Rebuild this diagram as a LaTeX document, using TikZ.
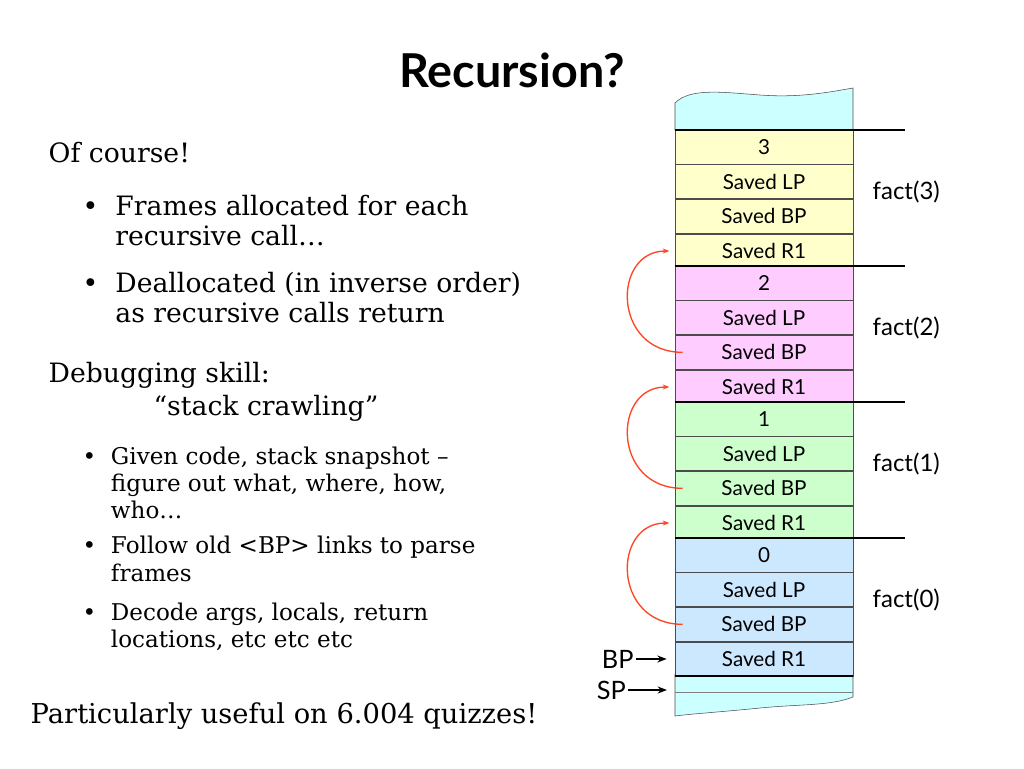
\documentclass[tikz,border=0pt]{standalone}
\usepackage{fontspec}
\setmainfont{DejaVu Serif}
\newfontfamily\gill{Lato}
\usetikzlibrary{positioning,arrows.meta}
\definecolor{stkyellow}{HTML}{FFFFCC}
\definecolor{stkpink}{HTML}{FFCCFF}
\definecolor{stkgreen}{HTML}{CCFFCC}
\definecolor{stkblue}{HTML}{CCE8FF}
\definecolor{stkcyan}{HTML}{CCFFFF}
\definecolor{linkred}{HTML}{FF4422}
\tikzset{
  cell/.style={draw=black!70, line width=0.5pt, minimum width=133.5pt, minimum height=25.5pt,
    inner sep=0pt, font=\gill\fontsize{15.5}{17}\selectfont},
  frameline/.style={line width=1.5pt},
  fname/.style={font=\gill\fontsize{18}{20}\selectfont, anchor=west},
  link/.style={-{Stealth[length=5pt]}, linkred, line width=1pt},
  pointer/.style={-{Stealth[length=7pt]}, line width=1.8pt},
  body/.style={anchor=west, align=left, font=\fontsize{20}{22.5}\selectfont},
  small/.style={anchor=west, align=left, font=\fontsize{17.3}{20.5}\selectfont},
}
\begin{document}
\begin{tikzpicture}[x=0.75pt,y=-0.75pt]
  \useasboundingbox (0,0) rectangle (1024,768);

  \node[font=\gill\bfseries\fontsize{35}{38}\selectfont] (title) at (512,70) {Recursion?};

  % left column text
  \node[body] (course) at (44,153) {Of course!};
  \node[body] (b1) at (78,221) {\textbullet\ \ Frames allocated for each\\\hphantom{\textbullet\ \ }recursive call\ldots};
  \node[body] (b2) at (78,298) {\textbullet\ \ Deallocated (in inverse order)\\\hphantom{\textbullet\ \ }as recursive calls return};
  \node[body] (debug) at (44,375) {Debugging skill:};
  \node[body, anchor=center] (crawl) at (266,408) {``stack crawling''};
  \node[small] (b3) at (78,483) {\textbullet\ \ Given code, stack snapshot --\\\hphantom{\textbullet\ \ }figure out what, where, how,\\\hphantom{\textbullet\ \ }who\ldots};
  \node[small] (b4) at (78,559) {\textbullet\ \ Follow old <BP> links to parse\\\hphantom{\textbullet\ \ }frames};
  \node[small] (b5) at (78,627) {\textbullet\ \ Decode args, locals, return\\\hphantom{\textbullet\ \ }locations, etc etc etc};
  \node[body, font=\fontsize{20.5}{22}\selectfont] (useful) at (26,716) {Particularly useful on 6.004 quizzes!};

  % stack ends
  \fill[stkcyan] (675,130) -- (675,103) .. controls (690,88) and (720,92) .. (760,95)
    .. controls (800,98) and (830,92) .. (853,88) -- (853,130) -- cycle;
  \draw[black!70] (675,130) -- (675,103) .. controls (690,88) and (720,92) .. (760,95)
    .. controls (800,98) and (830,92) .. (853,88) -- (853,130);
  \fill[stkcyan] (675,674) -- (853,674) -- (853,697) .. controls (830,706) and (800,704) .. (760,708)
    .. controls (720,712) and (690,714) .. (675,716) -- cycle;
  \draw[black!70] (675,674) -- (675,716) .. controls (690,714) and (720,712) .. (760,708)
    .. controls (800,704) and (830,706) .. (853,697) -- (853,674);
  \draw[black!50] (675,692) -- (853,692);

  % frames
  \foreach \n/\col [count=\i from 0] in {3/stkyellow,2/stkpink,1/stkgreen,0/stkblue} {
    \pgfmathsetmacro{\top}{130+136*\i}
    \node[cell, fill=\col] (arg\n) at (764,\top+17) {\n};
    \node[cell, fill=\col, below=0pt of arg\n] (lp\n) {Saved LP};
    \node[cell, fill=\col, below=0pt of lp\n] (bp\n) {Saved BP};
    \node[cell, fill=\col, below=0pt of bp\n] (rone\n) {Saved R1};
    \draw[frameline] (arg\n.north west) -- ++(230,0);
    \node[fname] (fact\n) at (868,\top+62) {fact(\n)};
  }
  \draw[frameline] (rone0.south west) -- (rone0.south east);

  % old BP links
  \foreach \a/\b in {2/3,1/2,0/1} {
    \draw[link] ([xshift=6pt]bp\a.west) .. controls (612,0|-bp\a.west) and (612,0|-rone\b.west) .. ([xshift=-4pt]rone\b.west);
  }

  % BP and SP pointers
  \coordinate (sp) at (667,690);
  \draw[pointer] ([xshift=-29pt]rone0.west) node[anchor=east, inner sep=1pt, font=\gill\fontsize{19}{20}\selectfont] (bplabel) {BP} -- ([xshift=-6pt]rone0.west);
  \draw[pointer] ([xshift=-29pt]sp) node[anchor=east, inner sep=1pt, font=\gill\fontsize{19}{20}\selectfont] (splabel) {SP} -- (sp);
\end{tikzpicture}
\end{document}
